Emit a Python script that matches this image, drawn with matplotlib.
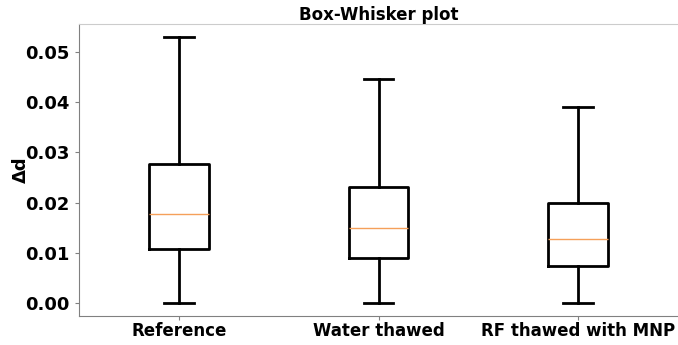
import matplotlib.pyplot as plt

# summary statistics for each thawing method
labels = ["Reference", "Water thawed", "RF thawed with MNP"]
whislo = [0.0, 0.0, 0.0]
q1 = [0.0108, 0.0090, 0.0074]
med = [0.0177, 0.0149, 0.0127]
q3 = [0.0277, 0.0231, 0.0200]
whishi = [0.0530, 0.0446, 0.0390]

stats = [
    {"label": l, "whislo": lo, "q1": a, "med": m, "q3": b, "whishi": hi, "fliers": []}
    for l, lo, a, m, b, hi in zip(labels, whislo, q1, med, q3, whishi)
]

fig = plt.figure(figsize=(6.78, 3.45), dpi=100)
ax = fig.add_axes([79 / 678, 29 / 345, 599 / 678, 292 / 345])

lw = 2
ax.bxp(
    stats,
    boxprops=dict(linewidth=lw, color="black"),
    whiskerprops=dict(linewidth=lw, color="black"),
    capprops=dict(linewidth=lw, color="black"),
    medianprops=dict(linewidth=1, color="#f5a05a"),
)

ax.set_title("Box-Whisker plot", fontsize=12, fontweight="bold", pad=3)
ax.set_ylabel("Δd", fontsize=13, fontweight="bold", labelpad=-3)
ax.set_yticks([0.0, 0.01, 0.02, 0.03, 0.04, 0.05])
ax.set_yticklabels([f"{v:.2f}" for v in ax.get_yticks()])
for t in ax.get_yticklabels():
    t.set_fontweight("bold")
    t.set_fontsize(13)
for t in ax.get_xticklabels():
    t.set_fontweight("bold")
    t.set_fontsize(12)

ax.spines["right"].set_visible(False)
ax.spines["top"].set_color("#cccccc")
ax.spines["left"].set_color("#808080")
ax.spines["bottom"].set_color("#808080")
ax.tick_params(colors="#808080", labelcolor="black", length=3)
ax.tick_params(axis="x", pad=1)

fig.savefig("out.png", dpi=100)
